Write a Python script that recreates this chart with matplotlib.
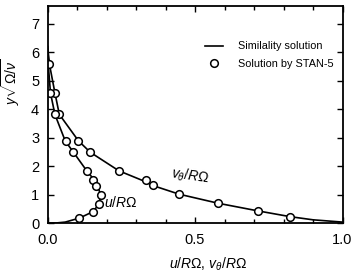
import numpy as np
import matplotlib
matplotlib.use("Agg")
import matplotlib.pyplot as plt
from matplotlib.ticker import MultipleLocator

plt.rcParams['font.family'] = ['Liberation Sans', 'DejaVu Sans']
plt.rcParams['mathtext.fontset'] = 'custom'
plt.rcParams['mathtext.it'] = 'Liberation Sans:italic'
plt.rcParams['mathtext.rm'] = 'Liberation Sans'

# similarity solution curves
u_line_x = [0.0, 0.03, 0.06, 0.108, 0.155, 0.175, 0.18, 0.172, 0.16, 0.133, 0.088, 0.06, 0.025, 0.01, 0.003, 0.0]
u_line_y = [0.0, 0.01, 0.04, 0.18, 0.41, 0.69, 0.99, 1.25, 1.5, 1.84, 2.49, 2.89, 3.82, 4.58, 5.5, 6.2]
v_line_x = [1.0, 0.9, 0.823, 0.715, 0.579, 0.446, 0.355, 0.334, 0.242, 0.145, 0.105, 0.04, 0.025, 0.008, 0.0]
v_line_y = [0.04, 0.12, 0.23, 0.43, 0.70, 1.02, 1.33, 1.45, 1.84, 2.49, 2.89, 3.82, 4.58, 5.5, 6.2]

# STAN-5 solution points
u_pts_x = [0.005, 0.008, 0.025, 0.063, 0.088, 0.133, 0.153, 0.163, 0.18, 0.175, 0.155, 0.108]
u_pts_y = [5.6, 4.58, 3.82, 2.89, 2.49, 1.84, 1.51, 1.31, 0.99, 0.69, 0.41, 0.18]
v_pts_x = [0.025, 0.04, 0.105, 0.145, 0.242, 0.334, 0.357, 0.446, 0.579, 0.715, 0.823]
v_pts_y = [4.58, 3.82, 2.89, 2.49, 1.84, 1.51, 1.33, 1.02, 0.70, 0.43, 0.23]

fig = plt.figure(figsize=(3.53, 2.78), dpi=100)
ax = fig.add_axes([0.1346, 0.197, 0.8357, 0.781])

ax.plot(v_line_x, v_line_y, color='k', lw=1.2, label='Similality solution')
ax.plot(u_line_x, u_line_y, color='k', lw=1.2)
ax.plot(v_pts_x, v_pts_y, 'o', mfc='white', mec='k', mew=1.1, ms=5.5,
        label='Solution by STAN-5')
ax.plot(u_pts_x, u_pts_y, 'o', mfc='white', mec='k', mew=1.1, ms=5.5)

ax.set_xlim(0, 1.0)
ax.set_ylim(0, 7.62)
ax.xaxis.set_minor_locator(MultipleLocator(0.1))
ax.yaxis.set_major_locator(MultipleLocator(1))
ax.set_xticks([0, 0.5, 1.0])
ax.set_xticklabels(['0.0', '0.5', '1.0'], fontsize=10.5)
ax.tick_params(axis='y', labelsize=10.5, pad=6)
ax.tick_params(axis='x', pad=7)
ax.tick_params(which='both', direction='in', top=True, right=True, width=1)
ax.tick_params(which='major', length=4)
ax.tick_params(which='minor', length=3)
for s in ax.spines.values():
    s.set_linewidth(1.3)

ax.text(0.19, 0.72, r'$u/R\Omega$', fontsize=10, va='center', ha='left')
ax.text(0.485, 1.66, r'$v_\theta/R\Omega$', fontsize=10, va='center', ha='center', rotation=-8)

ax.set_xlabel(r'$u/R\Omega$, $v_\theta/R\Omega$', fontsize=10)
ax.xaxis.set_label_coords(0.544, -0.15)
ax.set_ylabel(r'$y\sqrt{\Omega/\nu}$', fontsize=10)
ax.yaxis.set_label_coords(-0.085, 0.65)

ax.legend(loc='upper right', frameon=False, fontsize=7.8, handlelength=1.65,
          handletextpad=1.35, borderaxespad=0.3, labelspacing=0.7,
          bbox_to_anchor=(0.995, 0.872))

fig.savefig('out.png', dpi=100)
